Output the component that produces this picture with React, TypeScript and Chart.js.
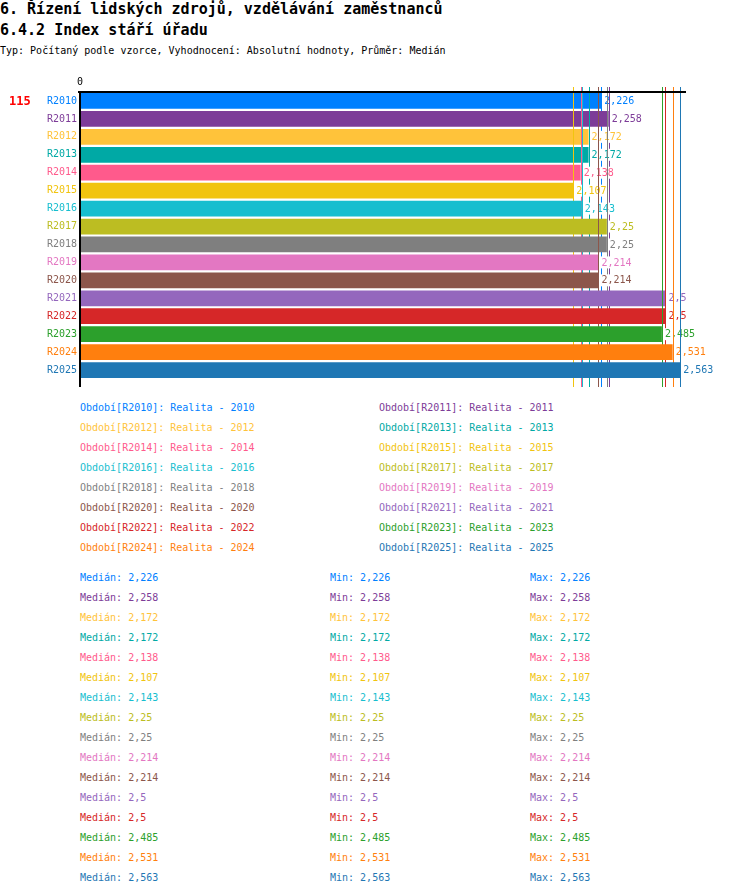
import React, { useEffect, useRef } from "react";
import Chart from "chart.js/auto";

const MONO = '"DejaVu Sans Mono", "Liberation Mono", monospace';

const years = ["R2010", "R2011", "R2012", "R2013", "R2014", "R2015", "R2016", "R2017",
  "R2018", "R2019", "R2020", "R2021", "R2022", "R2023", "R2024", "R2025"];

const values = [2.226, 2.258, 2.172, 2.172, 2.138, 2.107, 2.143, 2.25,
  2.25, 2.214, 2.214, 2.5, 2.5, 2.485, 2.531, 2.563];

const colors = ["#0080FF", "#7D3C98", "#FFC33A", "#00A9A5", "#FF5A8C", "#F1C40F", "#17BECF", "#BCBD22",
  "#7F7F7F", "#E377C2", "#8C564B", "#9467BD", "#D62728", "#2CA02C", "#FF7F0E", "#1F77B4"];

const legendNames = years.map((y) => `Období[${y}]: Realita - ${y.slice(1)}`);

const xMax = 2.588;
const xTickLabel = "0";
const badge = "115";

const fmt = (v: number) => String(v).replace(".", ",");

// vertical median line per dataset, then the bar, then its value label
const medianPlugin = {
  id: "medianPlugin",
  beforeDatasetDraw(chart: any, args: any) {
    const i = args.index;
    const x = Math.round(chart.scales.x.getPixelForValue(values[i])) + 0.5;
    const { top, bottom } = chart.chartArea;
    const ctx = chart.ctx;
    ctx.save();
    ctx.strokeStyle = colors[i];
    ctx.lineWidth = 1;
    ctx.beginPath();
    ctx.moveTo(x, top - 5);
    ctx.lineTo(x, bottom + 8);
    ctx.stroke();
    ctx.restore();
  },
  afterDatasetDraw(chart: any, args: any) {
    const i = args.index;
    const x = chart.scales.x.getPixelForValue(values[i]) + 3;
    const y = chart.scales.y.getPixelForValue(i);
    const ctx = chart.ctx;
    const text = fmt(values[i]);
    ctx.save();
    ctx.font = `10px ${MONO}`;
    const w = ctx.measureText(text).width;
    ctx.fillStyle = "#fff";
    ctx.fillRect(x - 1, y - 6, w + 2, 12);
    ctx.fillStyle = colors[i];
    ctx.textBaseline = "middle";
    ctx.fillText(text, x, y + 0.5);
    ctx.restore();
  },
  afterDraw(chart: any) {
    const { left, right, top, bottom } = chart.chartArea;
    const ctx = chart.ctx;
    ctx.save();
    ctx.strokeStyle = "#000";
    ctx.lineWidth = 2;
    ctx.beginPath();
    ctx.moveTo(left - 2, top);
    ctx.lineTo(right, top);
    ctx.moveTo(left, top);
    ctx.lineTo(left, bottom + 8);
    ctx.stroke();
    ctx.fillStyle = "#000";
    ctx.font = `10px ${MONO}`;
    ctx.textAlign = "center";
    ctx.textBaseline = "middle";
    ctx.fillText(xTickLabel, chart.scales.x.getPixelForValue(0), top - 10);
    ctx.textAlign = "left";
    ctx.font = `bold 12px ${MONO}`;
    ctx.fillStyle = "#FF0000";
    ctx.fillText(badge, 9, chart.scales.y.getPixelForValue(0) + 0.5);
    ctx.restore();
  },
};

function BarChart() {
  const canvasRef = useRef<HTMLCanvasElement | null>(null);
  const chartRef = useRef<any>(null);

  useEffect(() => {
    if (!canvasRef.current) return;
    chartRef.current = new Chart(canvasRef.current, {
      type: "bar",
      data: {
        labels: years,
        datasets: years.map((y, i) => ({
          label: legendNames[i],
          data: years.map((_, j) => (j === i ? values[i] : null)),
          backgroundColor: colors[i],
          borderWidth: 0,
          grouped: false,
          order: -i,
          barPercentage: 0.88,
          categoryPercentage: 1,
        })),
      },
      options: {
        indexAxis: "y",
        responsive: false,
        animation: false,
        layout: { padding: { left: 0, right: 64, top: 22, bottom: 21 } },
        plugins: { legend: { display: false }, tooltip: { enabled: false } },
        scales: {
          x: {
            display: false,
            min: 0,
            max: xMax,
          },
          y: {
            grid: { display: false, drawTicks: false, tickLength: 0 },
            border: { display: false },
            afterFit: (s: any) => { s.width = 80; },
            ticks: {
              color: (c: any) => colors[c.index],
              font: { family: MONO, size: 10 },
              padding: 3,
            },
          },
        },
      },
      plugins: [medianPlugin],
    } as any);
    return () => chartRef.current?.destroy();
  }, []);

  return <canvas ref={canvasRef} width={750} height={330} style={{ position: "absolute", left: 0, top: 70 }} />;
}

export default function App() {
  useEffect(() => {
    document.body.style.margin = "0";
  }, []);

  const text = (top: number, left: number, color: string, content: string, size = 10, bold = false) => (
    <div
      key={`${top}-${left}`}
      style={{
        position: "absolute",
        top,
        left,
        color,
        fontFamily: MONO,
        fontSize: size,
        fontWeight: bold ? "bold" : "normal",
        lineHeight: `${size + 2}px`,
        whiteSpace: "pre",
      }}
    >
      {content}
    </div>
  );

  return (
    <div style={{ position: "relative", width: 750, height: 896, background: "#fff" }}>
      {text(1, 0, "#000", "6. Řízení lidských zdrojů, vzdělávání zaměstnanců", 15, true)}
      {text(22, 0, "#000", "6.4.2 Index stáří úřadu", 15, true)}
      {text(45, 0, "#000", "Typ: Počítaný podle vzorce, Vyhodnocení: Absolutní hodnoty, Průměr: Medián")}
      <BarChart />
      {legendNames.map((name, i) =>
        text(402 + Math.floor(i / 2) * 20, i % 2 === 0 ? 80 : 379, colors[i], name)
      )}
      {values.map((v, i) => (
        <React.Fragment key={i}>
          {text(572 + i * 20, 80, colors[i], `Medián: ${fmt(v)}`)}
          {text(572 + i * 20, 330, colors[i], `Min: ${fmt(v)}`)}
          {text(572 + i * 20, 530, colors[i], `Max: ${fmt(v)}`)}
        </React.Fragment>
      ))}
    </div>
  );
}
